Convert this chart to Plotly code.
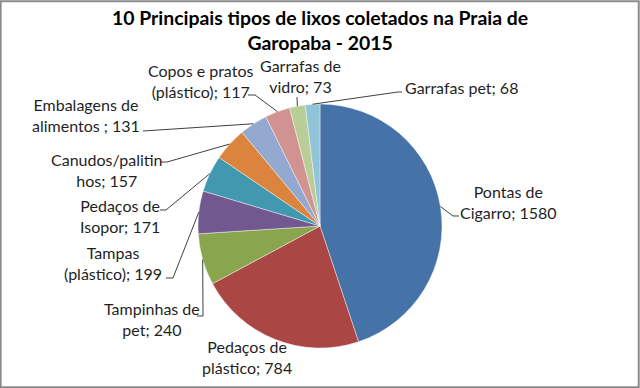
import math
import plotly.graph_objects as go

categories = ["Pontas de<br>Cigarro", "Pedaços de<br>plástico", "Tampinhas de<br>pet",
              "Tampas<br>(plástico)", "Pedaços de<br>Isopor", "Canudos/palitin<br>hos",
              "Embalagens de<br>alimentos ", "Copos e pratos<br>(plástico)", "Garrafas de<br>vidro",
              "Garrafas pet"]
values = [1580, 784, 240, 199, 171, 157, 131, 117, 73, 68]
colors = ["#4572A7", "#AA4643", "#89A54E", "#71588F", "#4198AF", "#DB843D",
          "#93A9CF", "#D19392", "#B9CD96", "#92C4D8"]

W, H = 640, 388
CX, CY, R = 320, 226, 122

# label block centres (pixels) and leader-line elbow points (pixels)
label_pos = [(508, 202), (247, 357), (152, 319), (113, 263), (120, 216),
             (107, 170), (86, 115), (200, 81), (300, 76), (461, 88)]
leader = [[(453, 216), (459, 216)], None, [(203, 316), (197, 316)],
          [(173, 278), (166, 278)], [(166, 210), (160, 210)], [(167, 162), (161, 162)],
          [(143, 131)], [(255, 95), (248, 95)], [(297, 97)], [(398, 92), (402, 92)]]

def px(x):
    return x / W

def py(y):
    return 1 - y / H

fig = go.Figure(go.Pie(
    values=values, labels=categories, sort=False, direction="clockwise", rotation=0,
    textinfo="none", hoverinfo="label+value",
    marker=dict(colors=colors, line=dict(color="rgba(255,255,255,0.6)", width=0.7)),
    domain=dict(x=[px(CX - R), px(CX + R)], y=[py(CY + R), py(CY - R)]),
    showlegend=False,
))

total = sum(values)
cum = 0
shapes = []
annotations = []
for i, v in enumerate(values):
    mid = (cum + v / 2) / total * 2 * math.pi
    cum += v
    sx = CX + R * math.sin(mid)
    sy = CY - R * math.cos(mid)
    lx, ly = label_pos[i]
    annotations.append(dict(
        x=px(lx), y=py(ly), xref="paper", yref="paper", showarrow=False,
        text=f"{categories[i]}; {v}", align="center", xanchor="center", yanchor="middle",
        font=dict(family="Lato", size=16, color="#1f1f1f"),
    ))
    if leader[i]:
        pts = [(sx, sy)] + leader[i]
        path = "M " + " L ".join(f"{px(x):.5f},{py(y):.5f}" for x, y in pts)
        shapes.append(dict(type="path", path=path, xref="paper", yref="paper",
                           line=dict(color="#404040", width=1)))

shapes.append(dict(type="rect", xref="paper", yref="paper", x0=0.001, y0=0.002, x1=0.998, y1=0.997,
                   line=dict(color="#8a8a8a", width=2)))

annotations.append(dict(
    x=0.5, y=py(30), xref="paper", yref="paper", showarrow=False,
    text="<b>10 Principais tipos de lixos coletados na Praia de<br>Garopaba - 2015</b>",
    align="center", xanchor="center", yanchor="middle",
    font=dict(family="Lato", size=19.4, color="#000000"),
))

fig.update_layout(
    width=W, height=H, margin=dict(l=0, r=0, t=0, b=0),
    paper_bgcolor="white", plot_bgcolor="white",
    shapes=shapes, annotations=annotations,
)

fig.write_html("out.html", config={"displayModeBar": False},
               post_script="document.body.style.margin='0';document.body.style.padding='0';"
                           "document.body.style.overflow='hidden';")
